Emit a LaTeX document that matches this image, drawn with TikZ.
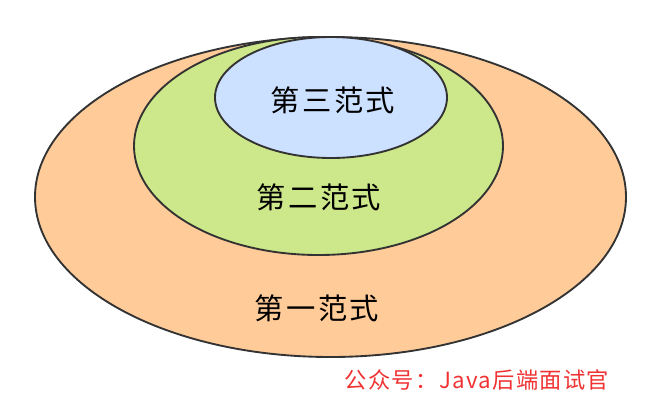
\documentclass[tikz,border=0pt]{standalone}
\usepackage{fontspec}
\newfontfamily\cjk{Noto Sans CJK SC}
\definecolor{nfone}{RGB}{255,204,153}
\definecolor{nftwo}{RGB}{205,232,138}
\definecolor{nfthree}{RGB}{204,224,255}
\definecolor{rim}{RGB}{51,51,51}
\definecolor{mark}{RGB}{240,50,50}
\tikzset{
  nf/.style={draw=rim, line width=1.6pt},
  nflabel/.style={font=\cjk\fontsize{25}{27}\selectfont\addfontfeature{LetterSpace=8}, text=black},
}
\begin{document}
\begin{tikzpicture}[x=0.03cm, y=-0.03cm]
  \useasboundingbox (0,0) rectangle (670,408);
  % nested normal forms
  \draw[nf, fill=nfone] (330.5,197) ellipse [x radius=295.5, y radius=160];
  \draw[nf, fill=nftwo] (318.5,146) ellipse [x radius=184.5, y radius=109];
  \draw[nf, fill=nfthree] (331,97.5) ellipse [x radius=116, y radius=60.5];
  \node[nflabel] (third) at (333,100) {第三范式};
  \node[nflabel] (second) at (319,197) {第二范式};
  \node[nflabel] (first) at (317,308) {第一范式};
  \node[font=\cjk\fontsize{19}{21}\selectfont\addfontfeature{LetterSpace=6}, text=mark] (credit) at (477,380) {公众号：Java后端面试官};
\end{tikzpicture}
\end{document}
